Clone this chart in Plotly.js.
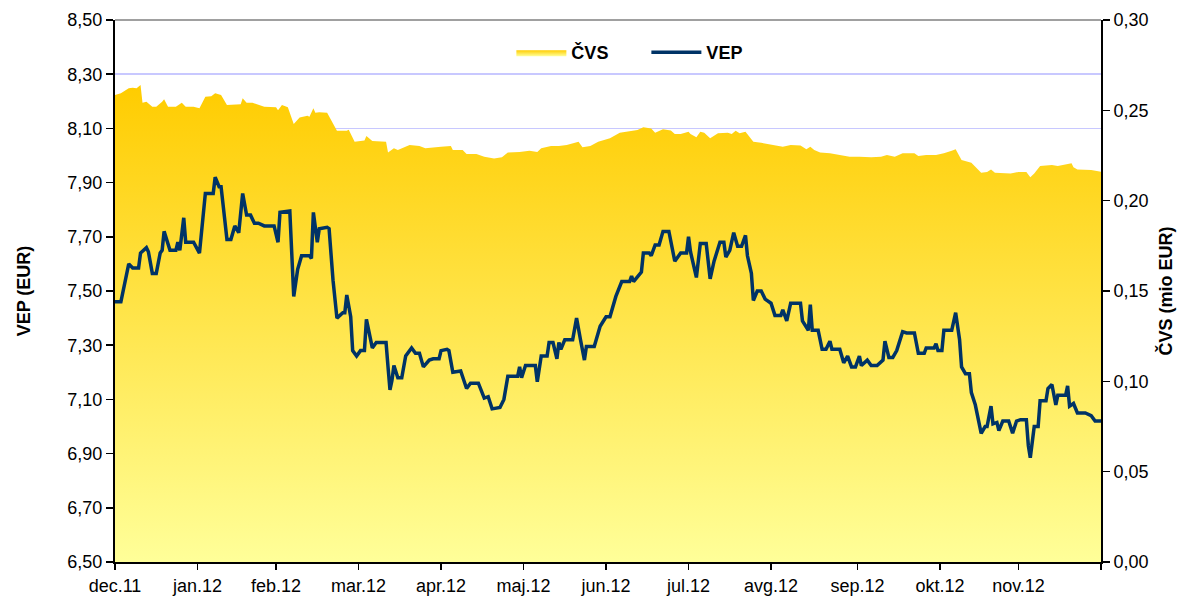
<!DOCTYPE html>
<html>
<head>
<meta charset="utf-8">
<script src="https://cdn.plot.ly/plotly-3.0.1.min.js"></script>
<style>
html,body{margin:0;padding:0;background:#fff;}
#chart{width:1183px;height:597px;}
</style>
</head>
<body>
<div id="chart"></div>
<script>
// Month starts (trading-day index) and labels
const monthStart = [0,21,41,62,83,104,125,146,167,189,210,230,251];
const monthLabels = ['dec.11','jan.12','feb.12','mar.12','apr.12','maj.12','jun.12','jul.12','avg.12','sep.12','okt.12','nov.12',''];

// VEP (EUR): [trading day, value]
const vepPoints = [
[0,7.46],[1.5,7.46],[3.5,7.60],[4.5,7.585],[6,7.585],[6.5,7.64],[8,7.66],[8.5,7.645],[9.5,7.565],[10.5,7.565],
[11.5,7.64],[12,7.65],[12.5,7.72],[14,7.65],[15.5,7.65],[16,7.68],[16.5,7.65],[17.5,7.77],[18,7.68],[20,7.68],
[21.5,7.64],[23,7.86],[25,7.86],[25.5,7.92],[26.5,7.885],[27,7.885],[28.5,7.69],[29.5,7.69],[30.5,7.74],[31.5,7.715],
[32.5,7.86],[33.5,7.78],[34.5,7.78],[35.5,7.75],[36.5,7.75],[38,7.74],[40.5,7.74],[41.5,7.68],[42,7.79],[44.5,7.795],
[45.5,7.48],[46.5,7.58],[47.5,7.63],[49.5,7.63],[50,7.62],[50.5,7.79],[51.5,7.68],[52,7.73],[54,7.735],[54.5,7.73],
[55.5,7.54],[56.5,7.40],[58,7.42],[58.5,7.42],[59,7.485],[60,7.405],[60.5,7.28],[61.5,7.26],[62.5,7.28],[63.5,7.28],
[64,7.395],[65,7.32],[65.5,7.29],[66.5,7.31],[69,7.31],[69.5,7.22],[70,7.135],[70.5,7.17],[71,7.225],[72,7.18],
[73,7.18],[74,7.26],[75.5,7.29],[76.5,7.27],[77.5,7.27],[78.5,7.22],[80,7.245],[81,7.25],[82.5,7.25],[83,7.28],
[84.5,7.285],[85,7.28],[86,7.20],[88,7.205],[89.5,7.14],[90.5,7.16],[92.5,7.16],[94,7.105],[95,7.11],[96,7.065],
[98,7.07],[99,7.10],[100,7.185],[102.5,7.185],[103,7.22],[103.5,7.18],[104.5,7.225],[107,7.225],[107.5,7.165],[108.5,7.26],
[110,7.26],[110.5,7.31],[111.5,7.31],[112.5,7.25],[113,7.31],[113.5,7.285],[114.5,7.32],[116.5,7.32],[117.5,7.40],[118.5,7.32],
[119.5,7.245],[120,7.295],[122,7.295],[123.5,7.37],[125,7.405],[126,7.405],[127.5,7.48],[129,7.535],[131,7.535],[131.5,7.555],
[132,7.535],[134,7.57],[134.5,7.64],[136,7.64],[136.5,7.63],[137.5,7.67],[138.5,7.67],[139.5,7.72],[141,7.72],[142.5,7.61],
[144,7.64],[145.5,7.64],[146,7.70],[146.5,7.645],[148,7.55],[149,7.675],[150.5,7.675],[151.5,7.545],[152.5,7.61],[154,7.68],
[155,7.68],[155.5,7.625],[156.5,7.65],[157.5,7.715],[158.5,7.665],[159.5,7.665],[160.5,7.705],[161,7.63],[162,7.565],[162.5,7.465],
[163.5,7.50],[164.5,7.50],[165.5,7.47],[167,7.455],[168,7.41],[169.5,7.41],[170,7.43],[171,7.39],[172,7.455],[174.5,7.455],
[175,7.39],[176.5,7.355],[177,7.45],[177.5,7.355],[179,7.355],[180,7.285],[181,7.285],[182,7.315],[182.5,7.285],[184.5,7.285],
[185.5,7.235],[186.5,7.26],[187.5,7.22],[188.5,7.22],[189.5,7.26],[190,7.225],[191.5,7.245],[192.5,7.225],[194,7.225],[195.5,7.245],
[196,7.315],[197,7.255],[198,7.255],[199,7.28],[200.5,7.35],[201.5,7.345],[203.5,7.345],[204.5,7.27],[206,7.27],[206.5,7.29],
[208.5,7.29],[209,7.305],[209.5,7.28],[210.5,7.28],[211,7.355],[213,7.355],[214,7.42],[215,7.32],[215.5,7.22],[216.5,7.195],
[217.5,7.195],[218,7.125],[219,7.08],[220.5,6.975],[221.5,7.00],[222,7.00],[223,7.075],[223.5,7.01],[224.5,7.015],[225,6.985],
[226,7.02],[227.5,7.02],[228.5,6.975],[229.5,7.02],[230.5,7.025],[232,7.025],[232.5,6.93],[233,6.885],[234,7.00],[235,7.00],
[235.5,7.095],[237,7.095],[237.5,7.14],[238.5,7.155],[239.5,7.08],[240,7.115],[242,7.115],[242.5,7.15],[243,7.075],[244,7.085],
[245,7.05],[247,7.05],[248.5,7.04],[249.5,7.02],[251,7.02]
];

// ČVS (mio EUR): [trading day, value]
const cvsPoints = [
[0,0.2585],[1.5,0.2594],[3.5,0.2622],[4.5,0.2625],[5.5,0.2622],[6.5,0.2640],[7,0.2542],[8,0.2548],[9.5,0.2520],[10.5,0.2520],
[12,0.2548],[12.5,0.2561],[13.5,0.2520],[15.5,0.2520],[17,0.2542],[18,0.2520],[20,0.2520],[21.5,0.2511],[23,0.2575],[24.5,0.2578],
[25.5,0.2594],[27,0.2585],[28.5,0.2530],[30,0.2530],[32,0.2533],[32.5,0.2567],[33.5,0.2542],[35,0.2542],[38,0.2520],[41,0.2517],
[41.5,0.2500],[42.5,0.2530],[44,0.2517],[45.5,0.2424],[47,0.2461],[49,0.2470],[49.5,0.2465],[50.5,0.2511],[51,0.2487],[52,0.2490],
[54,0.2487],[56.5,0.2387],[59,0.2387],[59.5,0.2392],[61,0.2326],[63.5,0.2333],[64,0.2358],[65.5,0.2330],[69,0.2326],[69.5,0.2266],
[71,0.2290],[72,0.2280],[75,0.2308],[77.5,0.2303],[79,0.2290],[83,0.2299],[85.5,0.2303],[86,0.2280],[88.5,0.2280],[89.5,0.2258],
[92,0.2258],[94,0.2243],[96.5,0.2234],[98.5,0.2240],[100,0.2266],[103,0.2270],[105.5,0.2276],[107.5,0.2270],[108.5,0.2290],[111,0.2303],
[113,0.2303],[115,0.2308],[118,0.2326],[119,0.2295],[121,0.2303],[123,0.2326],[124.5,0.2336],[126,0.2345],[128.5,0.2376],[131,0.2382],
[133,0.2391],[134.5,0.2406],[136.5,0.2400],[137.5,0.2376],[139.5,0.2395],[141.5,0.2389],[142.5,0.2369],[144,0.2369],[146,0.2382],[146.5,0.2369],
[148,0.2351],[149,0.2382],[150,0.2376],[151.5,0.2345],[153.5,0.2373],[156,0.2376],[157,0.2369],[158,0.2387],[159,0.2373],[160.5,0.2382],
[162.5,0.2326],[164.5,0.2320],[167.5,0.2308],[170,0.2299],[172,0.2308],[174.5,0.2305],[176,0.2284],[177,0.2299],[178,0.2280],[179.5,0.2266],
[182,0.2262],[184.5,0.2253],[187,0.2243],[189.5,0.2243],[192.5,0.2240],[195,0.2243],[196.5,0.2253],[198.5,0.2243],[200.5,0.2262],[203.5,0.2262],
[204.5,0.2247],[206.5,0.2253],[209,0.2253],[211,0.2262],[212,0.2271],[213,0.2276],[214,0.2284],[215.5,0.2225],[218,0.2210],[220.5,0.2155],
[222,0.2159],[223,0.2173],[224,0.2155],[226.5,0.2155],[228,0.2151],[230,0.2159],[232,0.2159],[233,0.2129],[234,0.2151],[235.5,0.2192],
[238.5,0.2197],[240,0.2192],[241.5,0.2197],[243.5,0.2207],[244,0.2185],[245,0.2173],[248.5,0.2170],[251,0.2160]
];

const FONT = 'Liberation Sans, Arial, sans-serif';

const traces = [
  {
    name: 'ČVS',
    x: cvsPoints.map(p => p[0]),
    y: cvsPoints.map(p => p[1]),
    type: 'scatter',
    mode: 'lines',
    yaxis: 'y',
    fill: 'tozeroy',
    line: {width: 0, color: '#FFCC00'},
    fillcolor: '#FFDD55',
    fillgradient: {
      type: 'vertical',
      start: 0,
      colorscale: [[0, '#FFFF99'], [1, '#FFCC00']]
    },
    hoverinfo: 'x+y'
  },
  {
    name: 'VEP',
    x: vepPoints.map(p => p[0]),
    y: vepPoints.map(p => p[1]),
    type: 'scatter',
    mode: 'lines',
    yaxis: 'y2',
    line: {width: 3.5, color: '#003366'},
    hoverinfo: 'x+y'
  }
];

const layout = {
  width: 1183,
  height: 597,
  margin: {l: 115, r: 82, t: 20, b: 35},
  paper_bgcolor: '#ffffff',
  plot_bgcolor: '#ffffff',
  separators: ',.',
  font: {family: FONT, size: 18, color: '#000000'},
  showlegend: true,
  legend: {
    orientation: 'h',
    x: 0.402, y: 0.94,
    xanchor: 'left', yanchor: 'middle',
    bgcolor: 'rgba(0,0,0,0)',
    font: {family: FONT, size: 18, weight: 'bold', color: '#000000'},
    itemwidth: 50,
    entrywidth: 70,
    traceorder: 'normal'
  },
  xaxis: {
    range: [0, 251],
    tickmode: 'array',
    tickvals: monthStart,
    ticktext: monthLabels,
    ticks: 'outside',
    ticklen: 6,
    tickwidth: 1.5,
    tickcolor: '#000000',
    showline: true,
    linecolor: '#000000',
    linewidth: 2,
    showgrid: false,
    zeroline: false,
    tickfont: {family: FONT, size: 18, color: '#000000'}
  },
  yaxis: {
    side: 'right',
    range: [0, 0.30],
    dtick: 0.05,
    tick0: 0,
    tickformat: '.2f',
    ticks: 'outside',
    ticklen: 7,
    tickwidth: 1.5,
    tickcolor: '#000000',
    showline: true,
    linecolor: '#000000',
    linewidth: 2,
    showgrid: false,
    zeroline: false,
    tickfont: {family: FONT, size: 18, color: '#000000'},
    title: {text: 'ČVS (mio EUR)', font: {family: FONT, size: 18, weight: 'bold', color: '#000000'}, standoff: 12}
  },
  yaxis2: {
    overlaying: 'y',
    side: 'left',
    range: [6.5, 8.5],
    dtick: 0.2,
    tick0: 6.5,
    tickformat: '.2f',
    ticks: 'outside',
    ticklen: 7,
    tickwidth: 1.5,
    tickcolor: '#000000',
    showline: true,
    linecolor: '#000000',
    linewidth: 2,
    showgrid: true,
    gridcolor: '#C8C8FF',
    gridwidth: 1.5,
    zeroline: false,
    tickfont: {family: FONT, size: 18, color: '#000000'},
    title: {text: 'VEP (EUR)', font: {family: FONT, size: 18, weight: 'bold', color: '#000000'}, standoff: 32}
  },
  shapes: [
    {type: 'line', xref: 'paper', yref: 'paper', x0: 0, x1: 1, y0: 1, y1: 1,
     line: {color: '#808080', width: 1.5}}
  ]
};

Plotly.newPlot('chart', traces, layout, {displayModeBar: false, staticPlot: true});
</script>
</body>
</html>
